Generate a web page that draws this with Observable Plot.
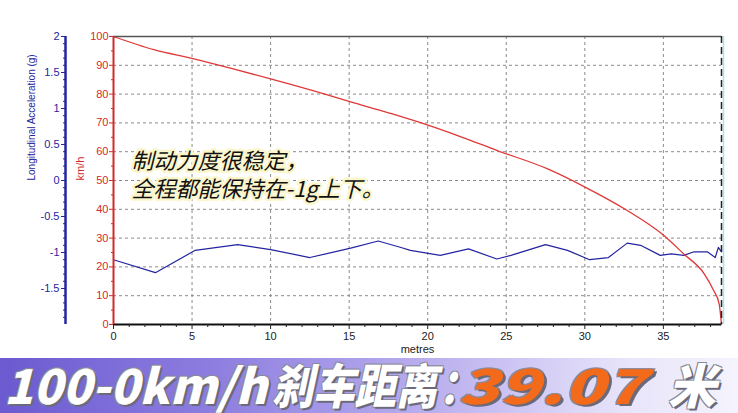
<!DOCTYPE html>
<html><head><meta charset="utf-8">
<script src="https://cdn.jsdelivr.net/npm/d3@7"></script>
<script src="https://cdn.jsdelivr.net/npm/@observablehq/plot@0.6"></script>
<style>
body{margin:0;background:#fff;width:738px;height:413px;overflow:hidden;font-family:"Liberation Sans",Arial,sans-serif}
#chart svg{display:block}
#banner{position:relative;width:738px;height:55px;background:linear-gradient(90deg,#6b5ad0 0%,#8f7fe0 30%,#bdb2ef 60%,#e8e4fa 85%,#f5f3fd 100%)}
#banner span{position:absolute;top:1px;font-family:"Noto Sans CJK SC",sans-serif;font-weight:900;font-style:italic;font-size:48px;line-height:48px;color:#fff;white-space:nowrap;transform-origin:left center;
text-shadow:2px 2px 0 #6a6a7a,-1px -1px 0 #8a8a9a,1px -1px 0 #8a8a9a,-1px 1px 0 #8a8a9a}
#banner .o{color:#f36a1a}
</style></head>
<body>
<div id="chart"></div>
<div id="banner"></div>
<script>
// Speed (red): distance in metres, speed in km/h
const speedDist = [0, 2.57, 5.05, 7.5, 10, 13.4, 15.05, 17.5, 19.97, 22.2, 24.43, 27.6, 29.95, 32.7, 34.9, 36.3, 37.6, 38.2, 38.55, 38.7];
const speedKmh  = [100, 95.4, 92.3, 88.9, 85.3, 80.1, 77.4, 73.5, 69.3, 65.0, 60.4, 54.1, 47.9, 39.6, 31.5, 24.5, 17.6, 11.8, 7.2, 0];
// Longitudinal acceleration (blue), in g
const accDist = [0, 2.67, 5.2, 7.9, 10, 12.5, 15.1, 16.85, 18.3, 18.9, 20.8, 22.6, 24.4, 25.3, 27.5, 28.9, 30.3, 31.5, 32.7, 33.55, 34.8, 35.5, 36.3, 36.95, 37.8, 38.3, 38.5, 38.7];
const accG    = [-1.10, -1.28, -0.97, -0.89, -0.96, -1.07, -0.94, -0.84, -0.93, -0.97, -1.04, -0.95, -1.09, -1.04, -0.89, -0.97, -1.10, -1.07, -0.87, -0.90, -1.04, -1.02, -1.04, -0.99, -0.99, -1.07, -0.93, -0.99];
// Axes
const speedTicks = [0, 10, 20, 30, 40, 50, 60, 70, 80, 90, 100];
const accTicks = [-1.5, -1, -0.5, 0, 0.5, 1, 1.5, 2];
const accRange = [-2, 2];
const distTicks = [0, 5, 10, 15, 20, 25, 30, 35];
const distMax = 38.7;
const accLabel = "Longitudinal Acceleration (g)";
const speedLabel = "km/h";
const distLabel = "metres";
const noteLines = ["制动力度很稳定，", "全程都能保持在-1g上下。"];
const bannerParts = ["100-0km/h", "刹车距离", "：", "39.07", "米"];

const toY = g => (g - accRange[0]) / (accRange[1] - accRange[0]) * 100;
const fromY = y => +(accRange[0] + y / 100 * (accRange[1] - accRange[0])).toFixed(2);

const speed = speedDist.map((d, i) => ({d, v: speedKmh[i]}));
const acc = accDist.map((d, i) => ({d, v: toY(accG[i])}));

const RED = "#d42a2a", BLUE = "#2424a0";
const grid = {stroke: "#8a8a8a", strokeOpacity: 1, strokeDasharray: "3,3"};
const minorAcc = d3.range(-19, 20).map(k => k / 10).filter(v => !accTicks.includes(v) && v !== -2);

const plot = Plot.plot({
  width: 738, height: 358,
  marginLeft: 113, marginRight: 17, marginTop: 36, marginBottom: 34,
  style: {fontFamily: "Liberation Sans, Arial, sans-serif", fontSize: "11px", background: "transparent"},
  x: {domain: [0, distMax], axis: null},
  y: {domain: [0, 100], axis: null},
  marks: [
    Plot.gridY(speedTicks.slice(1, -1), grid),
    Plot.gridX(distTicks.slice(1), grid),
    Plot.text([noteLines.join("\n")], {frameAnchor: "top-left", textAnchor: "start", lineAnchor: "top", dx: 18, dy: 112,
      fontSize: 22, fontStyle: "italic", lineHeight: 1.3, fill: "#111", stroke: "#fbf6cc", strokeWidth: 5,
      fontFamily: "Noto Sans CJK SC, sans-serif"}),
    Plot.line(acc, {x: "d", y: "v", stroke: BLUE, strokeWidth: 1.2}),
    Plot.line(speed, {x: "d", y: "v", stroke: "#e03838", strokeWidth: 1.3, curve: "monotone-x"}),
    Plot.ruleY([100], {stroke: "#555", strokeWidth: 1.5}),
    Plot.ruleX([distMax], {stroke: "#9fe6ee", strokeWidth: 1.5, dx: 2}),
    Plot.ruleX([distMax], {stroke: "#222", strokeWidth: 1.5, strokeDasharray: "7,4"}),
    Plot.ruleY([0], {stroke: "#111", strokeWidth: 2}),
    Plot.ruleX([0], {stroke: RED, strokeWidth: 2}),
    Plot.ruleX([0], {stroke: BLUE, strokeWidth: 2.5, dx: -48}),
    // red speed axis
    Plot.axisY(speedTicks, {anchor: "left", tickSize: 4, tickPadding: 1, color: RED, fontSize: 11, label: null}),
    Plot.axisY(d3.range(5, 100, 10), {anchor: "left", tickSize: 2, tickFormat: () => "", color: RED, label: null}),
    // blue acceleration axis
    Plot.axisY(accTicks.map(toY), {anchor: "left", dx: -48, tickSize: 4, tickPadding: 2, tickFormat: y => String(fromY(y)), color: BLUE, fontSize: 11, label: null}),
    Plot.axisY(minorAcc.map(toY), {anchor: "left", dx: -48, tickSize: 2, tickFormat: () => "", color: BLUE, label: null}),
    // x axis
    Plot.axisX(distTicks, {anchor: "bottom", tickSize: 5, tickPadding: 3, color: "#222", fontSize: 11, label: null}),
    Plot.axisX(d3.range(1, 39).filter(v => v % 5), {anchor: "bottom", tickSize: 3, tickFormat: () => "", color: "#222", label: null}),
    Plot.text([accLabel], {frameAnchor: "left", rotate: -90, dx: -82, fill: BLUE, fontSize: 10}),
    Plot.text([speedLabel], {frameAnchor: "left", rotate: -90, dx: -33, fill: RED, fontSize: 11}),
    Plot.text([distLabel], {frameAnchor: "bottom", dy: 28, fill: "#222", fontSize: 11})
  ]
});
document.getElementById("chart").append(plot);

const banner = document.getElementById("banner");
const pos = [[4, 1], [272, 0.86], [439, 0.8], [458, 1.4], [668, 1]];
bannerParts.forEach((t, i) => {
  const s = document.createElement("span");
  s.textContent = t;
  if (i === 3) s.className = "o";
  s.style.left = pos[i][0] + "px";
  s.style.transform = `scaleX(${pos[i][1]})`;
  banner.append(s);
});
</script>
</body></html>
